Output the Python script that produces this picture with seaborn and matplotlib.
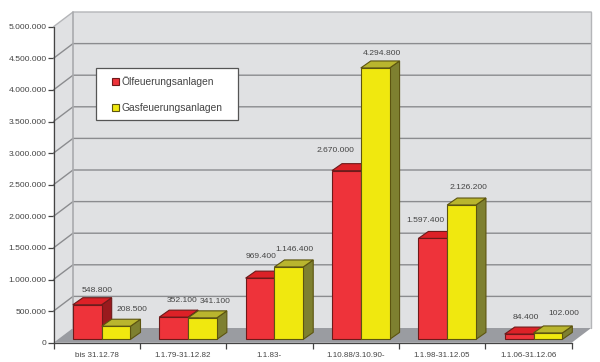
import matplotlib
matplotlib.use("Agg")
import matplotlib.pyplot as plt
import pandas as pd
import seaborn as sns
from matplotlib.lines import Line2D
from matplotlib.patches import Polygon
from matplotlib.transforms import Affine2D, IdentityTransform

zeitraum = ["bis 31.12.78", "1.1.79-31.12.82", "1.1.83-", "1.10.88/3.10.90-", "1.1.98-31.12.05", "1.1.06-31.12.06"]
oel = [548800, 352100, 969400, 2670000, 1597400, 84400]
gas = [208500, 341100, 1146400, 4294800, 2126200, 102000]
serien = ["Ölfeuerungsanlagen", "Gasfeuerungsanlagen"]
y_ticks = [0, 500000, 1000000, 1500000, 2000000, 2500000, 3000000, 3500000, 4000000, 4500000, 5000000]

# hand placed labels in the original, pixels from the top front centre of the bar
oel_nudge = [(10, 14.6), (8.4, 16.4), (1, 22), (-11, 20), (-7, 18), (6.5, 17)]
gas_nudge = [(16, 17), (12.7, 16.7), (6, 17), (7, 14.4), (7, 18), (15.5, 19)]

front = ["#ee333a", "#f0e80f"]
top = ["#dc2127", "#b9b52e"]
side = ["#991a1e", "#7e8030"]
edge = ["#6e1a1a", "#5c5410"]
text_col = "#444444"

# offset from axis plane to the back wall, bar front and bar depth
wall_dx, wall_dy = 19.5, 14.7
bar_dx, bar_dy = 5, 3.3
depth_dx, depth_dy = 10, 7


def fmt(v):
    return f"{v:,}".replace(",", ".")


def px(x, y):
    return ax.transData.transform((x, y))


def poly(points, color, z, ec="none", lw=0.8):
    ax.add_patch(Polygon(points, closed=True, fc=color, ec=ec, lw=lw, zorder=z,
                         transform=IdentityTransform(), clip_on=False))


sns.set_style("white")
plt.rcParams["font.family"] = ["Liberation Sans", "DejaVu Sans"]

fig = plt.figure(figsize=(6, 3.62), dpi=100)
ax = fig.add_axes([53.5 / 600, 19.3 / 362, 518.2 / 600, 316 / 362])
ax.patch.set_visible(False)

df = pd.DataFrame({
    "zeitraum": zeitraum * 2,
    "anlagen": oel + gas,
    "art": [serien[0]] * 6 + [serien[1]] * 6,
})
sns.barplot(data=df, x="zeitraum", y="anlagen", hue="art", palette=front, saturation=1,
            width=0.667, legend=False, ax=ax)

ax.set_xlim(-0.5, 5.5)
ax.set_ylim(0, 5000000)
ax.set_xlabel("")
ax.set_ylabel("")

# walls and floor
x0, x1 = -0.5, 5.5
y_top = y_ticks[-1]
wall = "#e0e1e3"
for a, b, c, d in [
    (px(x0, 0), px(x0, y_top), px(x0, y_top) + (wall_dx, wall_dy), px(x0, 0) + (wall_dx, wall_dy)),
    (px(x0, 0) + (wall_dx, wall_dy), px(x0, y_top) + (wall_dx, wall_dy),
     px(x1, y_top) + (wall_dx, wall_dy), px(x1, 0) + (wall_dx, wall_dy)),
]:
    poly([a, b, c, d], wall, 0.5)
poly([px(x0, 0), px(x0, 0) + (wall_dx, wall_dy), px(x1, 0) + (wall_dx, wall_dy), px(x1, 0)], "#9a9ca1", 0.6)

for v in y_ticks[1:]:
    a = px(x0, v)
    b = a + (wall_dx, wall_dy)
    c = px(x1, v) + (wall_dx, wall_dy)
    line_col = "#b4b5b8" if v == y_top else "#8b8c8f"
    ax.add_line(Line2D([a[0], b[0], c[0]], [a[1], b[1], c[1]], color=line_col, lw=1,
                       transform=IdentityTransform(), clip_on=False, zorder=0.8))
a = px(x0, 0) + (wall_dx, wall_dy)
b = px(x0, y_top) + (wall_dx, wall_dy)
c = px(x1, y_top) + (wall_dx, wall_dy)
d = px(x1, 0) + (wall_dx, wall_dy)
ax.add_line(Line2D([a[0], b[0]], [a[1], b[1]], color="#a9aaad", lw=1.2,
                   transform=IdentityTransform(), zorder=0.9, clip_on=False))
ax.add_line(Line2D([c[0], d[0]], [c[1], d[1]], color="#b4b5b8", lw=1,
                   transform=IdentityTransform(), zorder=0.9, clip_on=False))

# turn the flat seaborn bars into boxes
shift = Affine2D().translate(bar_dx, bar_dy)
for i, cont in enumerate(ax.containers):
    z = 3 + i
    nudges = [oel_nudge, gas_nudge][i]
    for bar, nudge in zip(cont.patches, nudges):
        left = bar.get_x()
        right = left + bar.get_width()
        h = bar.get_height()
        bar.set_transform(ax.transData + shift)
        bar.set_edgecolor(edge[i])
        bar.set_linewidth(0.8)
        bar.set_zorder(z + 0.2)
        bar.set_clip_on(False)

        off = (bar_dx, bar_dy)
        dep = (bar_dx + depth_dx, bar_dy + depth_dy)
        poly([px(right, 0) + off, px(right, h) + off, px(right, h) + dep, px(right, 0) + dep],
             side[i], z, edge[i])
        poly([px(left, h) + off, px(left, h) + dep, px(right, h) + dep, px(right, h) + off],
             top[i], z + 0.1, edge[i])

        cx, cy = px((left + right) / 2, h) + off
        ax.text(cx + nudge[0], cy + nudge[1], fmt(int(h)), transform=IdentityTransform(),
                ha="center", va="center", fontsize=6.1, color=text_col, zorder=8)

# axes
sns.despine(ax=ax)
for s in ["left", "bottom"]:
    ax.spines[s].set_color("#444444")
    ax.spines[s].set_linewidth(0.9)
ax.set_yticks(y_ticks)
ax.set_yticklabels([fmt(v) for v in y_ticks])
ax.set_xticks([i - 0.5 for i in range(7)], labels=[""] * 7)
ax.set_xticks(range(6), labels=zeitraum, minor=True)
ax.tick_params(axis="y", which="major", left=True, length=4, width=0.9, color="#444444", pad=1,
               labelsize=6.1, labelcolor=text_col)
ax.tick_params(axis="x", which="major", bottom=True, length=4, width=0.9, color="#444444")
ax.tick_params(axis="x", which="minor", bottom=False, length=0, pad=7, labelsize=5.8, labelcolor=text_col)

# legend box is wider than the legend's own padding allows, so the frame is separate
poly([(95.5, 362 - 67.5), (237.5, 362 - 67.5), (237.5, 362 - 120.3), (95.5, 362 - 120.3)],
     "white", 9, "#555555", 0.9)
leg = ax.legend(ax.containers, serien, loc="upper left", bbox_to_anchor=(112 / 600, 1 - 76.5 / 362),
                bbox_transform=fig.transFigure, borderaxespad=0, borderpad=0, frameon=False,
                fontsize=7.4, labelcolor=text_col, handlelength=0.65, handleheight=0.65,
                handletextpad=0.25, labelspacing=1.55)
leg.set_zorder(10)

fig.savefig("out.png", dpi=100, facecolor="white")
